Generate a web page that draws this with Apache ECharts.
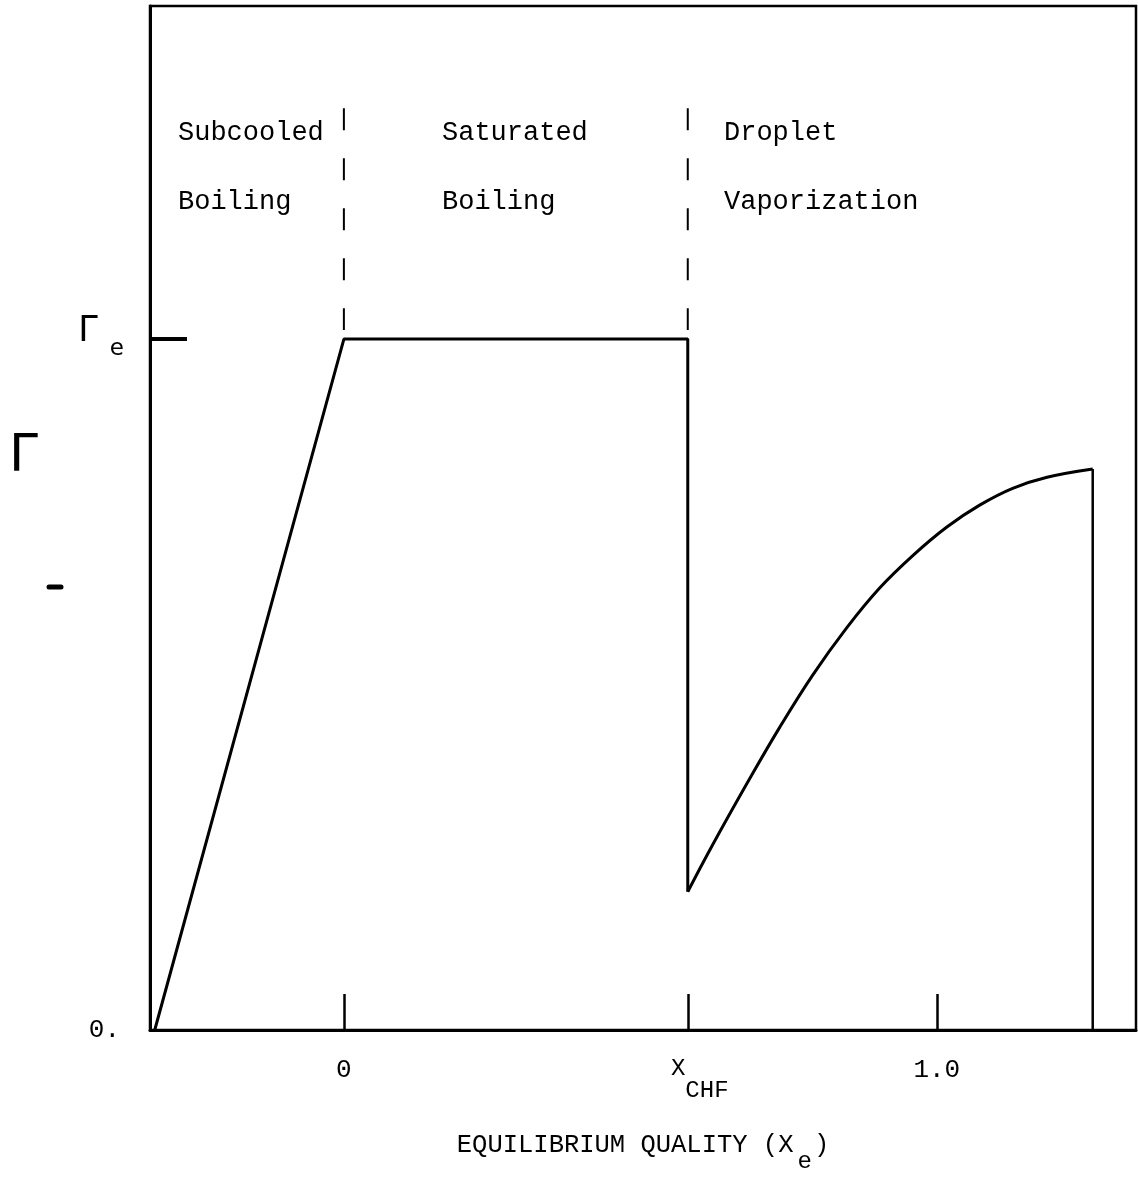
<!DOCTYPE html>
<html>
<head>
<meta charset="utf-8">
<script src="https://cdn.jsdelivr.net/npm/echarts@6/dist/echarts.min.js"></script>
<style>
  html, body { margin: 0; padding: 0; background: #fff; }
  #chart { width: 1138px; height: 1195px; }
</style>
</head>
<body>
<div id="chart"></div>
<script>
// Equilibrium quality at which critical heat flux occurs
const X_CHF = 0.58;
// Evaporation rate normalised by its saturated-boiling value (Gamma_e = 1)
const GAMMA_E = 1.0;

// Subcooled boiling ramp, saturated plateau and drop at CHF
const boilingX = [-0.319, 0.0, X_CHF, X_CHF];
const boilingY = [0.0, GAMMA_E, GAMMA_E, 0.2];

// Droplet vaporization branch beyond CHF
const dropletX = [0.58, 0.622, 0.680, 0.735, 0.791, 0.848, 0.904, 0.960, 1.017, 1.073, 1.128, 1.186, 1.263];
const dropletY = [0.20, 0.268, 0.357, 0.438, 0.514, 0.582, 0.640, 0.687, 0.728, 0.760, 0.784, 0.800, 0.812];

// Closing drop at the end of the branch
const endX = [1.263, 1.263];
const endY = [0.812, 0.0];

// Regime boundaries and their vertical extent
const boundaryX = [0.0, X_CHF];
const boundaryTop = 1.334;
const boundaryBottom = 1.013;

// Tick positions and labels
const xTickValues = [0.0, X_CHF, 1.0];
const xTickLabels = ['0', 'XCHF', '1.0'];
const yTickValues = [0.0, GAMMA_E];
const yTickLabels = ['0.', 'GE'];

// Regime names (two lines each) and their left edges
const regimeLine1 = ['Subcooled', 'Saturated', 'Droplet'];
const regimeLine2 = ['Boiling', 'Boiling', 'Vaporization'];
const regimeLeftPx = [178, 442, 724];

const pairs = (xs, ys) => xs.map((x, i) => [x, ys[i]]);

const MONO = '"Courier New", "Liberation Mono", monospace';
const chart = echarts.init(document.getElementById('chart'), null, { renderer: 'canvas' });

const lineStyle = { color: '#000', width: 3 };

const boundarySeries = boundaryX.map(x => ({
  type: 'line',
  data: [[x, boundaryTop], [x, boundaryBottom]],
  showSymbol: false,
  silent: true,
  lineStyle: { color: '#000', width: 2, type: [22, 28] },
  z: 2
}));

const regimeTexts = [];
regimeLine1.forEach((t, i) => {
  regimeTexts.push({
    type: 'text', left: regimeLeftPx[i], top: 119,
    style: { text: t, font: '27px ' + MONO, fill: '#000' }
  });
  regimeTexts.push({
    type: 'text', left: regimeLeftPx[i], top: 188,
    style: { text: regimeLine2[i], font: '27px ' + MONO, fill: '#000' }
  });
});

const option = {
  backgroundColor: '#fff',
  animation: false,
  grid: {
    left: 150, right: 2, top: 6, bottom: 165,
    show: true, borderColor: '#000', borderWidth: 2.5
  },
  xAxis: {
    type: 'value',
    min: -0.327, max: 1.336,
    name: '{t|EQUILIBRIUM QUALITY (X}{s|e}{t|)}',
    nameLocation: 'middle',
    nameGap: 100,
    nameTextStyle: {
      rich: {
        t: { fontFamily: MONO, fontSize: 25.5, color: '#000', padding: [0, 0, 14, 0] },
        s: { fontFamily: MONO, fontSize: 24, color: '#000', padding: [20, 2, 0, 4] }
      }
    },
    axisLine: { show: true, onZero: false, lineStyle: { color: '#000', width: 3 } },
    axisTick: { show: true, inside: true, length: 36, customValues: xTickValues,
                lineStyle: { color: '#000', width: 2.5 } },
    axisLabel: {
      show: true, margin: 27, customValues: xTickValues,
      formatter: v => {
        const i = xTickValues.findIndex(t => Math.abs(t - v) < 1e-6);
        const s = i >= 0 ? xTickLabels[i] : '';
        if (s === 'XCHF') return '{x|X}{sub|CHF}';
        return '{n|' + s + '}';
      },
      rich: {
        n: { fontFamily: MONO, fontSize: 26, color: '#000' },
        x: { fontFamily: MONO, fontSize: 24, color: '#000', padding: [0, 0, 22, 24] },
        sub: { fontFamily: MONO, fontSize: 24, color: '#000', padding: [22, 0, 0, 0] }
      }
    },
    splitLine: { show: false }
  },
  yAxis: {
    type: 'value',
    min: 0, max: 1.482,
    axisLine: { show: true, onZero: false, lineStyle: { color: '#000', width: 3 } },
    axisTick: { show: true, inside: true, length: 37, customValues: [GAMMA_E],
                lineStyle: { color: '#000', width: 4 } },
    axisLabel: {
      show: true, margin: 26, customValues: yTickValues,
      formatter: v => {
        const i = yTickValues.findIndex(t => Math.abs(t - v) < 1e-6);
        const s = i >= 0 ? yTickLabels[i] : '';
        if (s === 'GE') return '{g|Γ}{e|e}';
        return '{n|' + s + '}';
      },
      rich: {
        n: { fontFamily: MONO, fontSize: 26, color: '#000', padding: [0, 4, 0, 0] },
        g: { fontFamily: '"DejaVu Sans", sans-serif', fontSize: 35, color: '#000', padding: [0, 0, 14, 0] },
        e: { fontFamily: '"DejaVu Sans", sans-serif', fontSize: 23, color: '#000', padding: [20, 0, 0, 12] }
      }
    },
    splitLine: { show: false }
  },
  graphic: [
    ...regimeTexts,
    {
      type: 'text', left: 9, top: 431,
      style: { text: 'Γ', font: '52px "DejaVu Sans", sans-serif', fill: '#000' }
    },
    {
      type: 'line', shape: { x1: 49, y1: 587, x2: 61, y2: 587 },
      style: { stroke: '#000', lineWidth: 5, lineCap: 'round' }
    }
  ],
  series: [
    {
      type: 'line', data: pairs(boilingX, boilingY), showSymbol: false,
      lineStyle, silent: true, z: 3
    },
    {
      type: 'line', data: pairs(dropletX, dropletY), showSymbol: false,
      smooth: 0.4, lineStyle, silent: true, z: 3
    },
    {
      type: 'line', data: pairs(endX, endY), showSymbol: false,
      lineStyle: { color: '#000', width: 2.5 }, silent: true, z: 3
    },
    ...boundarySeries
  ]
};

chart.setOption(option);
</script>
</body>
</html>
